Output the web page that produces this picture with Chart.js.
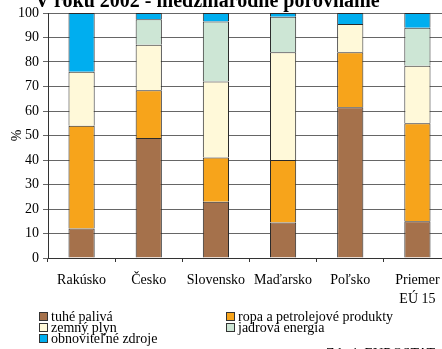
<!DOCTYPE html>
<html>
<head>
<meta charset="utf-8">
<script src="https://cdn.jsdelivr.net/npm/chart.js@4/dist/chart.umd.min.js"></script>
<style>
  html, body { margin: 0; padding: 0; background: #fff; overflow: hidden; width: 442px; height: 349px; }
  body { position: relative; font-family: "Liberation Serif", serif; color: #000; }
  #wrap { position: absolute; left: 0; top: 0; width: 451px; height: 349px; }
  #title { position: absolute; left: 35px; top: -11px; font-size: 20px; font-weight: bold; white-space: nowrap; }
  #legend { position: absolute; left: 39px; top: 311px; display: grid; grid-template-columns: 187px 210px; font-size: 14px; line-height: 11px; }
  .item { display: flex; align-items: center; white-space: nowrap; height: 11px; }
  .box { width: 7px; height: 7px; border: 1px solid #333; margin-right: 3px; }
  #source { position: absolute; left: 326px; top: 346px; font-size: 14px; white-space: nowrap; }
</style>
</head>
<body>
<div id="wrap"><canvas id="myChart"></canvas></div>
<div id="title">V roku 2002 - medzinárodné porovnanie</div>
<div id="legend"></div>
<div id="source">Zdroj: EUROSTAT</div>
<script>
// categories and series (% share)
var categories = ["Rakúsko", "Česko", "Slovensko", "Maďarsko", "Poľsko", ["Priemer", "EÚ 15"]];
var seriesNames = ["tuhé palivá", "ropa a petrolejové produkty", "zemný plyn", "jadrová energia", "obnoviteľné zdroje"];
var tuhe = [12, 49, 23, 14.5, 61.5, 15];
var ropa = [42, 19.5, 18, 25.5, 22.5, 40];
var plyn = [22, 18.5, 31, 44, 11.5, 23.5];
var jadro = [0, 10.5, 24.5, 14.5, 0, 15.5];
var obnov = [24, 2.5, 3.5, 1.5, 4.5, 6];
var yTicks = [0, 10, 20, 30, 40, 50, 60, 70, 80, 90, 100];
var barColors = ["#A5714B", "#F7A41B", "#FFF9D9", "#CDE6D5", "#00AEEF"];

var allValues = [tuhe, ropa, plyn, jadro, obnov];

var datasets = [];
for (var i = 0; i < seriesNames.length; i++) {
    datasets.push({
        label: seriesNames[i],
        data: allValues[i],
        backgroundColor: barColors[i],
        borderColor: "#2a2a2a",
        borderWidth: 1,
        categoryPercentage: 1,
        barPercentage: 0.39
    });
}

// html legend, 2 columns
var legend = document.getElementById("legend");
seriesNames.forEach(function (name, i) {
    var item = document.createElement("div");
    item.className = "item";
    var box = document.createElement("span");
    box.className = "box";
    box.style.background = barColors[i];
    item.appendChild(box);
    item.appendChild(document.createTextNode(name));
    legend.appendChild(item);
});

var serif = "'Liberation Serif', serif";

new Chart("myChart", {
    type: "bar",
    data: { labels: categories, datasets: datasets },
    options: {
        responsive: true,
        maintainAspectRatio: false,
        animation: false,
        layout: { padding: { top: 13, left: 0, right: 0, bottom: 0 } },
        plugins: { legend: { display: false }, tooltip: { enabled: false } },
        scales: {
            x: {
                stacked: true,
                afterFit: function (s) { s.height = 91; },
                grid: { drawOnChartArea: false, drawTicks: true, tickLength: 4, offset: true, color: "#333" },
                border: { display: true, color: "#333" },
                ticks: { color: "#000", font: { family: serif, size: 14, lineHeight: 1.35 }, padding: 9, maxRotation: 0, autoSkip: false }
            },
            y: {
                stacked: true,
                min: 0,
                max: 100,
                afterFit: function (s) { s.width = 48; },
                afterBuildTicks: function (s) { s.ticks = yTicks.map(function (v) { return { value: v }; }); },
                grid: { color: "#666", lineWidth: 1, tickLength: 5 },
                border: { display: true, color: "#333" },
                ticks: { color: "#000", font: { family: serif, size: 14 }, padding: 4 },
                title: { display: true, text: "%", color: "#000", font: { family: serif, size: 14 }, padding: { top: 9, bottom: 0 } }
            }
        }
    }
});
</script>
</body>
</html>
